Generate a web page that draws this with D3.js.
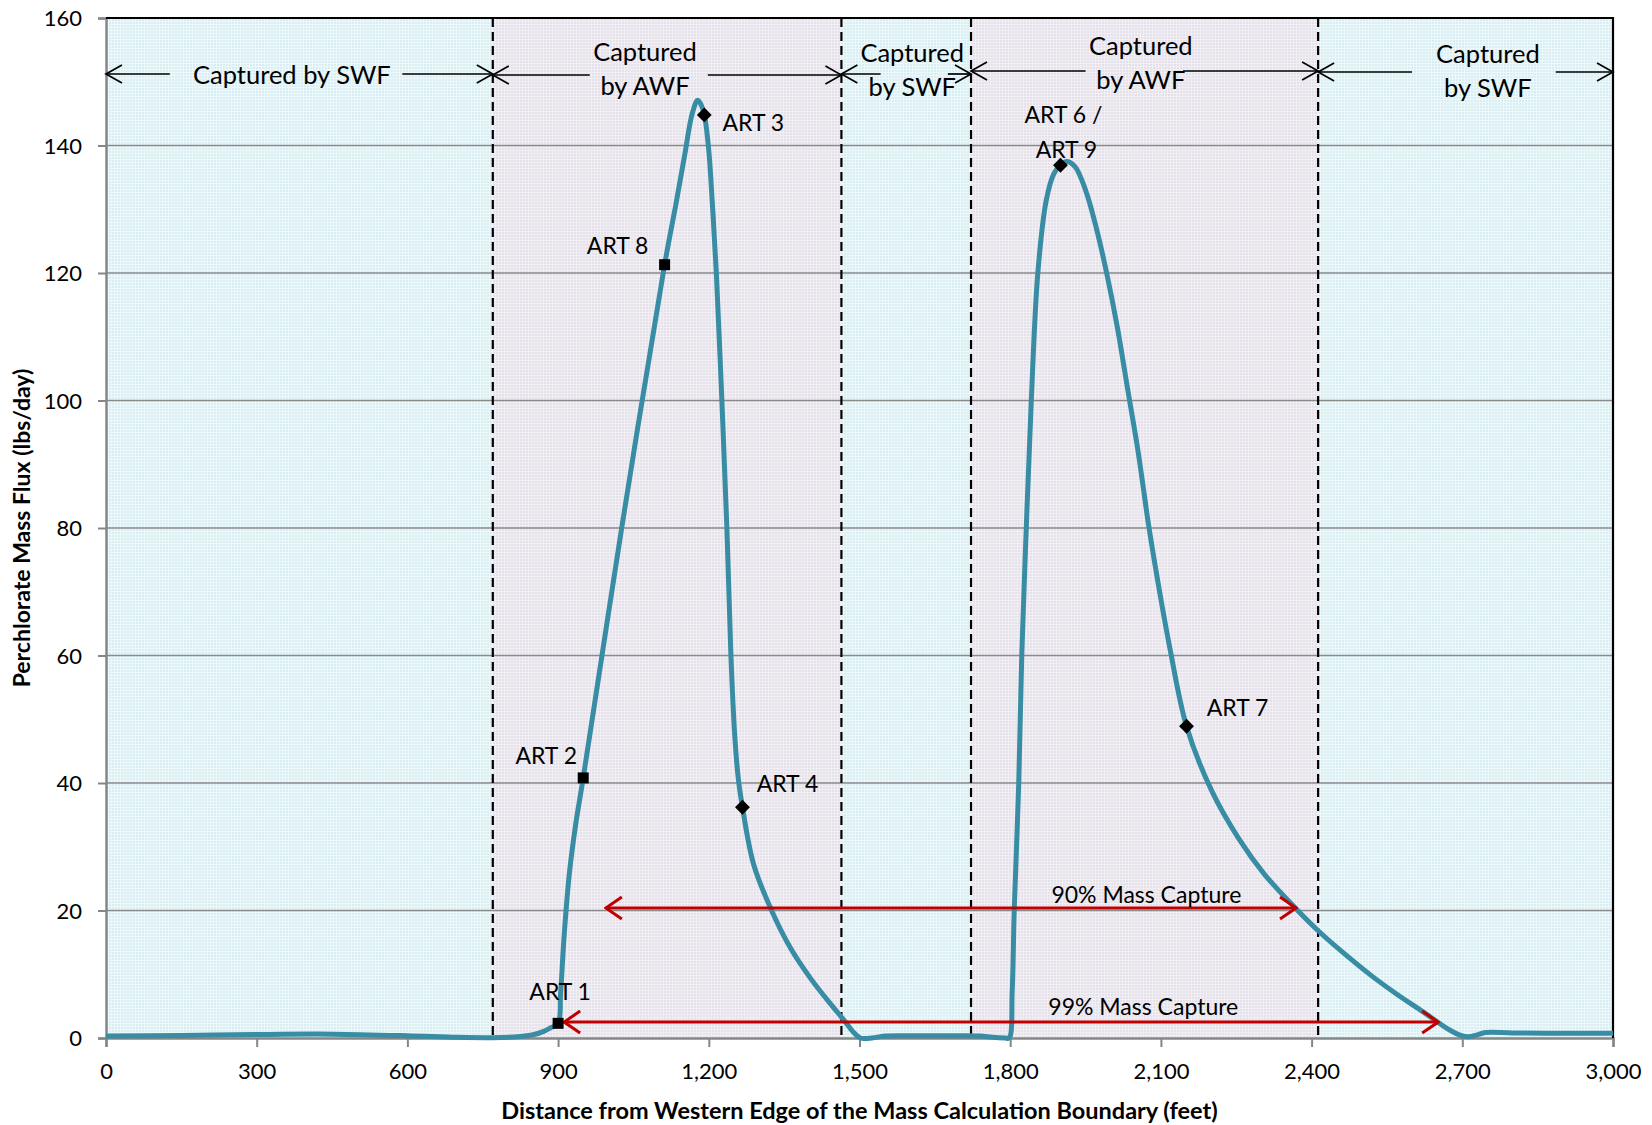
<!DOCTYPE html>
<html><head><meta charset="utf-8">
<script src="https://cdn.jsdelivr.net/npm/d3@7"></script>
<style>body{margin:0;background:#fff} text{font-family:Lato,"Open Sans",sans-serif;fill:#000}</style>
</head><body><svg id="chart" width="1652" height="1125"></svg>
<script>
// ---------- data ----------
const xTickValues = [0,300,600,900,1200,1500,1800,2100,2400,2700,3000];
const yTickValues = [0,20,40,60,80,100,120,140,160];
const distanceFt = [0,150,300,450,600,700,770,820,850,870,885,900,905,912,922,935,950,1027,1112,1135,1152,1167,1178,1189,1199,1207,1215,1226,1236,1244,1252,1259,1267,1289,1325,1362,1404,1446,1467,1488,1502,1525,1550,1600,1700,1740,1765,1790,1798,1804,1808,1817,1823,1832,1842,1855,1872,1887,1900,1912,1929,1950,1971,1992,2013,2034,2055,2076,2097,2118,2151,2201,2254,2307,2370,2412,2464,2517,2569,2622,2674,2699,2712,2730,2746,2800,2900,3000];
const massFlux =   [0.3,0.4,0.55,0.6,0.35,0.1,0.05,0.2,0.5,1.0,1.6,2.3,7,16,25.5,33.5,40.8,80.2,121.3,131,138.5,145,147.1,145.5,140,131,120,100,80,60,47,40.5,36.2,27.3,20.0,14.2,9.2,5.0,3.0,0.9,0,0,0.3,0.35,0.35,0.3,0.1,0,0,7.4,20,40,60,80,100,120,131.5,135.6,136.9,137.5,136.7,133,127.2,120,111.6,101.7,91.8,80.2,70.2,61.1,48.9,38.8,31.4,25.6,20.2,16.9,13.3,9.9,6.9,4.1,1.3,0.36,0.2,0.5,0.86,0.8,0.75,0.75];
const zoneStart = [0,770,1464,1722,2413];
const zoneEnd   = [770,1464,1722,2413,3000];
const zoneType  = ["SWF","AWF","SWF","AWF","SWF"];
const zoneLabel = [["Captured by SWF"],["Captured","by AWF"],["Captured","by SWF"],["Captured","by AWF"],["Captured","by SWF"]];
const zoneLabelFt = [370,1073,1605,2060,2751];
const zoneGapStart = [127,963,1542,1950,2600];
const zoneGapEnd   = [590,1198,1676,2144,2886];
const boundaryFt = [770,1464,1722,2413];
const artName  = [["ART 1"],["ART 2"],["ART 8"],["ART 3"],["ART 4"],["ART 6 /","ART 9"],["ART 7"]];
const artX     = [900,950,1112,1191,1267,1900,2151];
const artY     = [2.3,40.8,121.3,144.8,36.2,136.9,48.9];
const artShape = ["square","square","square","diamond","diamond","diamond","diamond"];
const captureLabel = ["90% Mass Capture","99% Mass Capture"];
const captureFromFt = [995,912];
const captureToFt   = [2369,2652];
const captureLevel  = [20.4,2.5];
const captureLabelFt = [2071,2065];

// ---------- layout ----------
const L = 106, R = 1613, T = 18, B = 1038;
const svg = d3.select("#chart");
const x = d3.scaleLinear().domain([0,3000]).range([L,R]);
const y = d3.scaleLinear().domain([0,160]).range([B,T]);
const zoneArrowY = [74,75,74,71,72];
const zoneTextY = [74,51,52,45,53];
const artLabelOffset = [[2,-32],[-37,-23],[-47,-20],[49,7],[45,-24],[3,-51],[51,-19]];
const captureTextOffset = [-14,-16];

const defs = svg.append("defs");
function pat(id, base, light){
  const p = defs.append("pattern").attr("id",id).attr("width",3).attr("height",3).attr("patternUnits","userSpaceOnUse");
  p.append("rect").attr("width",3).attr("height",3).attr("fill",base);
  p.append("rect").attr("width",3).attr("height",1).attr("fill",light);
  p.append("rect").attr("width",1).attr("height",3).attr("fill",light);
}
pat("pSWF","#d8eef3","#edf8fa");
pat("pAWF","#e4e1ea","#f1eff4");
function arrowMarker(id, color, len, half, sw){
  const m = defs.append("marker").attr("id",id).attr("markerUnits","userSpaceOnUse")
    .attr("viewBox",`${-len-2} ${-half-2} ${len+4} ${2*half+4}`)
    .attr("refX",0).attr("refY",0).attr("markerWidth",len+4).attr("markerHeight",2*half+4)
    .attr("orient","auto-start-reverse");
  m.append("path").attr("d",`M${-len},${-half} L0,0 L${-len},${half}`).attr("fill","none")
    .attr("stroke",color).attr("stroke-width",sw);
}
arrowMarker("aBlack","#000",16,9,1.7);
arrowMarker("aRed","#c00000",16,11,3);
defs.append("clipPath").attr("id","plotClip").append("rect").attr("x",L).attr("y",T).attr("width",R-L).attr("height",B-T+3);

// zone backgrounds
svg.append("g").selectAll("rect").data(zoneStart).join("rect")
  .attr("x",(d)=>x(d)).attr("y",T).attr("width",(d,i)=>x(zoneEnd[i])-x(d)).attr("height",B-T)
  .attr("fill",(d,i)=>`url(#p${zoneType[i]})`);

// gridlines
svg.append("g").selectAll("line").data(yTickValues.filter(v=>v>0 && v<160)).join("line")
  .attr("x1",L).attr("x2",R).attr("y1",d=>y(d)).attr("y2",d=>y(d))
  .attr("stroke","#8a8a8a").attr("stroke-width",1.5);

// axes
const yAxis = svg.append("g").attr("transform",`translate(${L},0)`)
  .call(d3.axisLeft(y).tickValues(yTickValues).tickSize(8).tickPadding(16).tickFormat(d3.format("d")));
const xAxis = svg.append("g").attr("transform",`translate(0,${B})`)
  .call(d3.axisBottom(x).tickValues(xTickValues).tickSize(9).tickPadding(14).tickFormat(d3.format(",")));
[yAxis,xAxis].forEach(a=>{
  a.select(".domain").attr("stroke","#868686").attr("stroke-width",2.5);
  a.selectAll(".tick line").attr("stroke","#868686").attr("stroke-width",2);
  a.selectAll(".tick text").attr("font-size",22).attr("font-family","Lato").attr("fill","#000");
});
xAxis.selectAll(".tick text").attr("dy","0.82em");
yAxis.selectAll(".tick text").attr("dy","0.35em");
// top & right border
svg.append("path").attr("d",`M${L},${T}H${R}V${B}`).attr("fill","none").attr("stroke","#000").attr("stroke-width",2.2);

// boundary dashed lines
svg.append("g").selectAll("line").data(boundaryFt).join("line")
  .attr("x1",d=>x(d)).attr("x2",d=>x(d)).attr("y1",T).attr("y2",B)
  .attr("stroke","#000").attr("stroke-width",2.2).attr("stroke-dasharray","9,5");

// curve
const pts = distanceFt.map((d,i)=>[d,massFlux[i]]);
svg.append("path").datum(pts).attr("clip-path","url(#plotClip)")
  .attr("d",d3.line().x(d=>x(d[0])).y(d=>y(d[1])).curve(d3.curveCatmullRom.alpha(0.5)))
  .attr("fill","none").attr("stroke","#388ca3").attr("stroke-width",5).attr("stroke-linejoin","round");

// capture arrows
const cap = svg.append("g");
captureLabel.forEach((lab,i)=>{
  cap.append("line").attr("x1",x(captureFromFt[i])).attr("x2",x(captureToFt[i]))
    .attr("y1",y(captureLevel[i])).attr("y2",y(captureLevel[i]))
    .attr("stroke","#c00000").attr("stroke-width",3)
    .attr("marker-start","url(#aRed)").attr("marker-end","url(#aRed)");
  cap.append("text").attr("x",x(captureLabelFt[i])).attr("y",y(captureLevel[i])+captureTextOffset[i])
    .attr("text-anchor","middle").attr("dominant-baseline","central").attr("font-size",23).text(lab);
});

// markers
const sym = {square:d3.symbol(d3.symbolSquare,121), diamond:d3.symbol(d3.symbolSquare,110)};
const mk = svg.append("g");
artX.forEach((ax,i)=>{
  const rot = artShape[i]==="diamond"?45:0;
  mk.append("path").attr("d",sym[artShape[i]]()).attr("fill","#000")
    .attr("transform",`translate(${x(ax)},${y(artY[i])}) rotate(${rot})`);
  const [dx,dy] = artLabelOffset[i];
  artName[i].forEach((ln,k)=>{
    mk.append("text").attr("x",x(ax)+dx+k*3).attr("y",y(artY[i])+dy+k*35)
      .attr("text-anchor","middle").attr("dominant-baseline","central").attr("font-size",23).text(ln);
  });
});

// zone annotation arrows and labels
const za = svg.append("g");
zoneStart.forEach((zs,i)=>{
  const yy = zoneArrowY[i];
  za.append("line").attr("x1",x(zoneGapStart[i])).attr("x2",x(zs)).attr("y1",yy).attr("y2",yy)
    .attr("stroke","#000").attr("stroke-width",1.7).attr("marker-end","url(#aBlack)");
  za.append("line").attr("x1",x(zoneGapEnd[i])).attr("x2",x(zoneEnd[i])).attr("y1",yy).attr("y2",yy)
    .attr("stroke","#000").attr("stroke-width",1.7).attr("marker-end","url(#aBlack)");
  zoneLabel[i].forEach((ln,k)=>{
    za.append("text").attr("x",x(zoneLabelFt[i])).attr("y",zoneTextY[i]+k*34)
      .attr("text-anchor","middle").attr("dominant-baseline","central").attr("font-size",25.5).text(ln);
  });
});

// axis titles
svg.append("text").attr("x",(L+R)/2).attr("y",1110).attr("text-anchor","middle").attr("dominant-baseline","central")
  .attr("font-size",23.5).attr("font-weight","bold").text("Distance from Western Edge of the Mass Calculation Boundary (feet)");
svg.append("text").attr("transform",`translate(21,${(T+B)/2}) rotate(-90)`).attr("text-anchor","middle").attr("dominant-baseline","central")
  .attr("font-size",23).attr("font-weight","bold").text("Perchlorate Mass Flux (lbs/day)");
</script></body></html>
